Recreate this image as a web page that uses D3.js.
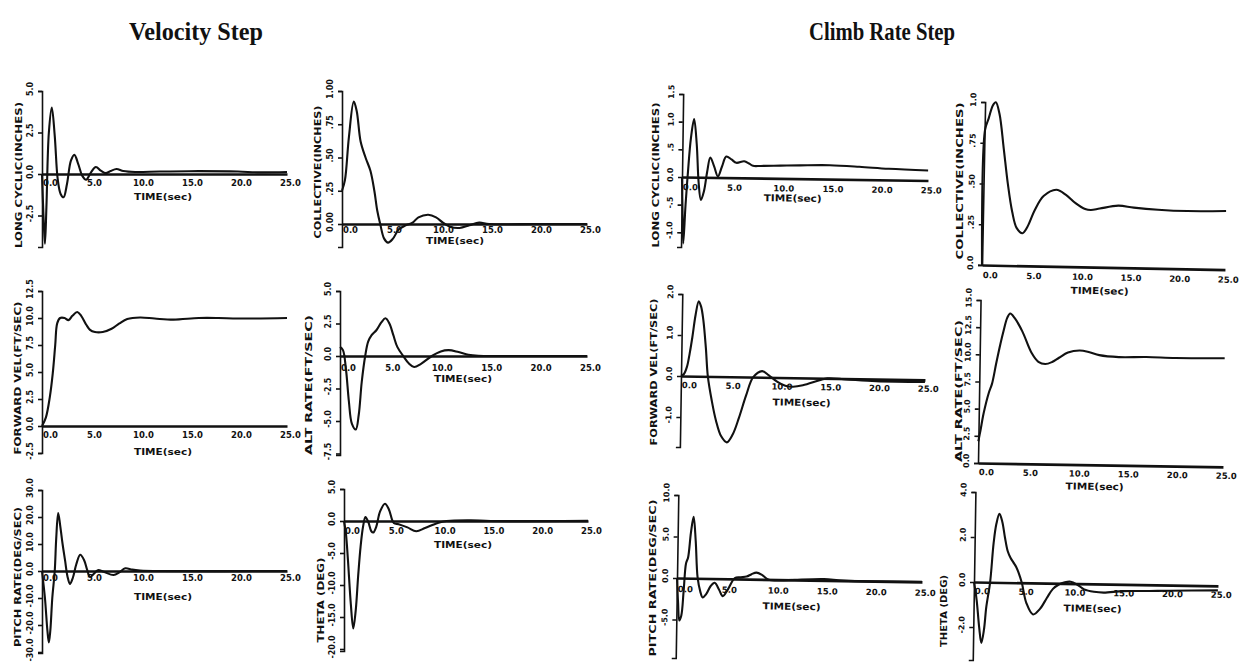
<!DOCTYPE html>
<html>
<head>
<meta charset="utf-8">
<script src="https://cdn.jsdelivr.net/npm/d3@7"></script>
<style>
  body { margin: 0; background: #fff; }
  svg { display: block; }
</style>
</head>
<body>
<svg id="chart" width="1244" height="664"></svg>
<script>
// ---- shared labels ----
const groupTitles = ["Velocity Step", "Climb Rate Step"];
const xTickValues = [0, 5, 10, 15, 20, 25];
const xTickLabels = ["0.0", "5.0", "10.0", "15.0", "20.0", "25.0"];
const timeLabel = "TIME(sec)";

// ---- y-axis tick values and labels ----
const ticksCyclicVel = [5, 2.5, 0, -2.5];
const labelsCyclicVel = ["5.0", "2.5", "0.0", "-2.5"];
const ticksCollVel = [1, 0.75, 0.5, 0.25, 0];
const labelsCollVel = ["1.00", ".75", ".50", ".25", "0.00"];
const ticksCyclicClimb = [1.5, 1, 0.5, 0, -0.5, -1];
const labelsCyclicClimb = ["1.5", "1.0", ".5", "0.0", "-.5", "-1.0"];
const ticksCollClimb = [1, 0.75, 0.5, 0.25, 0];
const labelsCollClimb = ["1.0", ".75", ".50", ".25", "0.0"];
const ticksFwdVel = [12.5, 10, 7.5, 5, 2.5, 0, -2.5];
const labelsFwdVel = ["12.5", "10.0", "7.5", "5.0", "2.5", "0.0", "-2.5"];
const ticksAltVel = [5, 2.5, 0, -2.5, -5, -7.5];
const labelsAltVel = ["5.0", "2.5", "0.0", "-2.5", "-5.0", "-7.5"];
const ticksFwdClimb = [2, 1, 0, -1];
const labelsFwdClimb = ["2.0", "1.0", "0.0", "-1.0"];
const ticksAltClimb = [15, 12.5, 10, 7.5, 5, 2.5, 0];
const labelsAltClimb = ["15.0", "12.5", "10.0", "7.5", "5.0", "2.5", "0.0"];
const ticksPitchVel = [30, 20, 10, 0, -10, -20, -30];
const labelsPitchVel = ["30.0", "20.0", "10.0", "0.0", "-10.0", "-20.0", "-30.0"];
const ticksThetaVel = [5, 0, -5, -10, -15, -20];
const labelsThetaVel = ["5.0", "0.0", "-5.0", "-10.0", "-15.0", "-20.0"];
const ticksPitchClimb = [10, 5, 0, -5];
const labelsPitchClimb = ["10.0", "5.0", "0.0", "-5.0"];
const ticksThetaClimb = [4, 2, 0, -2];
const labelsThetaClimb = ["4.0", "2.0", "0.0", "-2.0"];

// ---- time histories: [time (sec), value] ----
const velLongCyclic = [[0,0],[0.15,-2.5],[0.3,-4.2],[0.45,-2.0],[0.7,2.5],[1.0,4.0],[1.3,2.3],[1.6,-0.3],[1.9,-1.2],[2.2,-1.4],[2.55,-0.6],[2.95,0.8],[3.3,1.15],[3.7,0.6],[4.1,-0.1],[4.5,-0.35],[5.0,0.1],[5.5,0.42],[6.0,0.2],[6.5,0.05],[7.0,0.18],[7.6,0.3],[8.3,0.18],[9.5,0.12],[12,0.15],[15,0.17],[20,0.15],[22,0.1],[25,0.12]];
const velCollective = [[0,0.25],[0.3,0.33],[0.7,0.65],[1.2,0.92],[1.5,0.85],[1.9,0.62],[2.4,0.5],[2.9,0.4],[3.3,0.25],[3.6,0.1],[3.9,0.0],[4.3,-0.11],[4.7,-0.14],[5.2,-0.11],[5.8,-0.04],[6.5,-0.01],[7.2,0.01],[7.8,0.05],[8.8,0.07],[9.6,0.05],[10.3,0.01],[11,-0.02],[12,-0.03],[13,-0.01],[14,0.01],[15,0.0],[20,0.0],[25,0.0]];
const climbLongCyclic = [[0,0],[0.1,-0.6],[0.22,-1.2],[0.4,-0.5],[0.6,0.1],[0.85,0.7],[1.15,1.05],[1.45,0.6],[1.7,-0.1],[1.95,-0.41],[2.25,-0.25],[2.55,0.1],[2.85,0.36],[3.25,0.2],[3.65,0.02],[4.05,0.2],[4.47,0.38],[5.0,0.33],[5.5,0.27],[6.3,0.3],[6.8,0.26],[7.2,0.22],[8,0.22],[10,0.23],[12,0.24],[15,0.25],[18,0.23],[21,0.2],[25,0.18]];
const climbCollective = [[0,0],[0.05,0.83],[0.4,0.9],[0.8,0.98],[1.1,1.0],[1.5,0.93],[2.0,0.72],[2.5,0.5],[3.0,0.33],[3.5,0.23],[4.1,0.2],[4.6,0.24],[5.3,0.34],[6.2,0.43],[7.5,0.47],[8.5,0.44],[9.5,0.39],[10.5,0.355],[11.1,0.35],[12,0.36],[13.9,0.38],[15.5,0.37],[18,0.36],[21,0.355],[25,0.36]];
const velForwardVel = [[0,0],[0.4,0.8],[0.8,2.7],[1.1,4.9],[1.35,7.5],[1.55,9.5],[1.85,10.0],[2.3,10.0],[2.7,9.8],[3.1,10.2],[3.6,10.55],[4.0,10.2],[4.5,9.4],[4.9,8.9],[5.4,8.7],[6.2,8.7],[7.1,9.0],[7.9,9.5],[8.7,9.9],[10,10.05],[11.5,9.95],[13.4,9.85],[16,10.0],[18,10.0],[20,9.95],[25,10.0]];
const velAltRate = [[0,0.7],[0.3,0.45],[0.6,-1.0],[0.9,-3.5],[1.2,-5.2],[1.6,-5.65],[1.9,-4.5],[2.2,-2.0],[2.55,0],[2.85,1.1],[3.2,1.6],[3.7,2.0],[4.2,2.6],[4.6,2.9],[5.0,2.5],[5.4,1.6],[5.8,0.7],[6.4,0],[7.0,-0.6],[7.5,-0.85],[8.2,-0.6],[9.3,0],[10.2,0.35],[11.0,0.45],[12,0.3],[13,0.1],[14,0.02],[16,0],[25,0]];
const climbForwardVel = [[0,0],[0.3,0.05],[0.6,0.23],[0.85,0.55],[1.1,0.95],[1.4,1.5],[1.7,1.83],[1.95,1.7],[2.2,1.37],[2.5,0.7],[2.75,0],[3.2,-0.6],[3.65,-1.07],[4.2,-1.45],[4.8,-1.6],[5.4,-1.4],[6.0,-1.0],[6.7,-0.45],[7.4,0],[8.3,0.15],[9.0,0.05],[9.85,-0.1],[10.7,-0.2],[11.5,-0.22],[12.5,-0.18],[14.2,-0.05],[15,0.0],[17,-0.02],[20,-0.05],[25,-0.05]];
const climbAltRate = [[0,2.0],[0.2,3.0],[0.5,4.6],[1.0,6.5],[1.3,7.3],[1.7,9.2],[2.1,11],[2.4,12.2],[2.75,13.4],[3.05,13.8],[3.5,13.4],[4.3,12.2],[5.3,10.2],[6.0,9.4],[6.7,9.2],[7.4,9.4],[8.1,9.8],[9,10.3],[10.2,10.5],[11.2,10.35],[12.2,10.1],[14.2,9.95],[17,10.0],[20,9.95],[25,10.0]];
const velPitchRate = [[0,0],[0.3,-10],[0.55,-22],[0.7,-26.5],[0.85,-22],[1.05,-10],[1.3,0],[1.45,12],[1.65,21.5],[1.85,17],[2.1,10],[2.35,4],[2.6,-2],[2.85,-4.8],[3.15,-2.5],[3.5,2.5],[3.9,6],[4.3,4],[4.6,0.5],[4.9,-2.2],[5.3,-1],[5.7,0.3],[6.3,-0.3],[7.3,-1.5],[7.9,-0.5],[8.5,1.0],[9.2,0.5],[10,0.2],[12,0],[25,0]];
const velTheta = [[0,0],[0.2,-2],[0.4,-6],[0.7,-13],[0.95,-16.8],[1.2,-14],[1.45,-8.6],[1.7,-4],[1.95,-0.9],[2.2,0.6],[2.5,-0.2],[2.8,-1.6],[3.0,-1.8],[3.3,-0.9],[3.7,1.5],[4.2,2.7],[4.6,1.8],[5.1,-0.3],[5.6,-0.5],[6.5,-1.0],[7.4,-1.6],[8.3,-1.1],[9.6,-0.3],[10.5,0],[13,0.1],[15,0],[25,0.05]];
const climbPitchRate = [[0,0],[0.15,-3],[0.3,-5.1],[0.5,-4.5],[0.7,-1.5],[0.9,1.8],[1.1,2.5],[1.35,5.5],[1.6,7.4],[1.85,4.5],[2.1,0.1],[2.4,-1.6],[2.65,-2.3],[3.0,-1.9],[3.45,-0.9],[3.85,-0.5],[4.3,-1.3],[4.7,-2.1],[5.2,-1.3],[5.9,0.1],[6.5,0.2],[7.1,0.3],[7.6,0.6],[8.1,0.8],[8.7,0.5],[9.3,0],[10.5,-0.1],[12,0],[15,0.15],[17,0],[25,0]];
const climbTheta = [[0,0],[0.3,-0.8],[0.6,-2.0],[0.85,-2.7],[1.1,-2.1],[1.3,-1.1],[1.65,0],[1.95,1.75],[2.2,2.6],[2.5,3.05],[2.8,2.7],[3.1,2.0],[3.4,1.4],[3.7,1.1],[4.0,0.9],[4.3,0.7],[4.55,0.45],[4.9,0],[5.4,-0.9],[6.1,-1.4],[6.8,-1.15],[7.5,-0.65],[8.1,-0.25],[8.7,-0.05],[9.3,0.05],[9.9,0.08],[10.6,-0.05],[11.3,-0.25],[12.3,-0.35],[13.3,-0.38],[15.3,-0.3],[18,-0.28],[20,-0.25],[25,-0.2]];

// ---- panel placement (pixels) ----
const panels = [
  { series: velLongCyclic,   title: "LONG CYCLIC(INCHES)", ticks: ticksCyclicVel,   tickText: labelsCyclicVel,   x0: 42,  x1: 287,  yTop: 91,  yZero: 174, yBot: 247, top: 5,    xlabY: 186, timeX: 163,  timeY: 200, labX: 19,  labY: 175, labLen: 146, tilt: 0 },
  { series: velCollective,   title: "COLLECTIVE(INCHES)",  ticks: ticksCollVel,     tickText: labelsCollVel,     x0: 342, x1: 587,  yTop: 91,  yZero: 224, yBot: 247, top: 1,    xlabY: 233, timeX: 455,  timeY: 244, labX: 318, labY: 172, labLen: 133, tilt: 0 },
  { series: climbLongCyclic, title: "LONG CYCLIC(INCHES)", ticks: ticksCyclicClimb, tickText: labelsCyclicClimb, x0: 682, x1: 928,  yTop: 94,  yZero: 177, yBot: 247, top: 1.5,  xlabY: 190, timeX: 793,  timeY: 200, labX: 656, labY: 175, labLen: 145, tilt: 0.8 },
  { series: climbCollective, title: "COLLECTIVE(INCHES)",  ticks: ticksCollClimb,   tickText: labelsCollClimb,   x0: 982, x1: 1225, yTop: 102, yZero: 265, yBot: 265, top: 1,    xlabY: 278, timeX: 1100, timeY: 292, labX: 960, labY: 181, labLen: 157, tilt: 1.1 },
  { series: velForwardVel,   title: "FORWARD VEL(FT/SEC)", ticks: ticksFwdVel,      tickText: labelsFwdVel,      x0: 42,  x1: 287,  yTop: 291, yZero: 426, yBot: 453, top: 12.5, xlabY: 438, timeX: 163,  timeY: 455, labX: 18,  labY: 378, labLen: 153, tilt: 0 },
  { series: velAltRate,      title: "ALT RATE(FT/SEC)",    ticks: ticksAltVel,      tickText: labelsAltVel,      x0: 340, x1: 587,  yTop: 291, yZero: 356, yBot: 455, top: 5,    xlabY: 371, timeX: 463,  timeY: 382, labX: 309, labY: 385, labLen: 140, tilt: 0 },
  { series: climbForwardVel, title: "FORWARD VEL(FT/SEC)", ticks: ticksFwdClimb,    tickText: labelsFwdClimb,    x0: 681, x1: 925,  yTop: 294, yZero: 376, yBot: 447, top: 2,    xlabY: 388, timeX: 802,  timeY: 404, labX: 654, labY: 372, labLen: 147, tilt: 0.9 },
  { series: climbAltRate,    title: "ALT RATE(FT/SEC)",    ticks: ticksAltClimb,    tickText: labelsAltClimb,    x0: 978, x1: 1223, yTop: 300, yZero: 463, yBot: 463, top: 15,   xlabY: 475, timeX: 1095, timeY: 488, labX: 959, labY: 391, labLen: 142, tilt: 0.9 },
  { series: velPitchRate,    title: "PITCH RATE(DEG/SEC)", ticks: ticksPitchVel,    tickText: labelsPitchVel,    x0: 42,  x1: 287,  yTop: 490, yZero: 571, yBot: 653, top: 30,   xlabY: 581, timeX: 163,  timeY: 600, labX: 18,  labY: 577, labLen: 140, tilt: 0 },
  { series: velTheta,        title: "THETA (DEG)",         ticks: ticksThetaVel,    tickText: labelsThetaVel,    x0: 344, x1: 588,  yTop: 489, yZero: 521, yBot: 651, top: 5,    xlabY: 534, timeX: 463,  timeY: 548, labX: 321, labY: 600, labLen: 85,  tilt: 0 },
  { series: climbPitchRate,  title: "PITCH RATE(DEG/SEC)", ticks: ticksPitchClimb,  tickText: labelsPitchClimb,  x0: 677, x1: 922,  yTop: 495, yZero: 578, yBot: 658, top: 10,   xlabY: 592, timeX: 792,  timeY: 608, labX: 653, labY: 578, labLen: 157, tilt: 0.9 },
  { series: climbTheta,      title: "THETA (DEG)",         ticks: ticksThetaClimb,  tickText: labelsThetaClimb,  x0: 974, x1: 1218, yTop: 492, yZero: 582, yBot: 660, top: 4,    xlabY: 594, timeX: 1093, timeY: 610, labX: 944, labY: 611, labLen: 72,  tilt: 0.9 }
];

const svg = d3.select("#chart");
const ink = "#111";
const labelFont = "'DejaVu Sans', sans-serif";

// group headings
const headingX = [196, 882];
const headingLen = [134, 146];
groupTitles.forEach((t, i) => {
  svg.append("text")
    .attr("x", headingX[i]).attr("y", 40)
    .attr("text-anchor", "middle")
    .attr("font-family", "'Liberation Serif', serif")
    .attr("font-weight", "bold")
    .attr("font-size", 25)
    .attr("textLength", headingLen[i])
    .attr("lengthAdjust", "spacingAndGlyphs")
    .attr("fill", ink)
    .text(t);
});

panels.forEach(p => {
  const g = svg.append("g");
  if (p.tilt) g.attr("transform", `rotate(${p.tilt},${p.x0},${p.yZero})`);

  const x = d3.scaleLinear().domain([0, 25]).range([p.x0, p.x1]);
  const bottomVal = -(p.yBot - p.yZero) / (p.yZero - p.yTop) * p.top;
  const y = d3.scaleLinear().domain([bottomVal, p.top]).range([p.yBot, p.yTop]);

  // vertical axis with bracket ends
  const yAxis = g.append("g")
    .attr("transform", `translate(${p.x0},0)`)
    .call(d3.axisLeft(y).tickValues(p.ticks).tickFormat("").tickSize(4).tickSizeOuter(4));
  yAxis.selectAll("path,line").attr("stroke", ink).attr("stroke-width", 1.6);

  // rotated tick labels
  g.selectAll(null).data(p.ticks).join("text")
    .attr("transform", (d) => `translate(${p.x0 - 9},${y(d) - 2}) rotate(-90)`)
    .attr("text-anchor", "middle")
    .attr("font-family", labelFont)
    .attr("font-weight", "bold")
    .attr("font-size", 8)
    .attr("fill", ink)
    .text((d, i) => p.tickText[i]);

  // horizontal time axis along zero
  const xAxis = g.append("g")
    .attr("transform", `translate(0,${y(0)})`)
    .call(d3.axisBottom(x).tickValues(xTickValues)
      .tickFormat((d, i) => xTickLabels[i])
      .tickSize(0).tickSizeOuter(0).tickPadding(p.xlabY - p.yZero - 6));
  xAxis.select(".domain").attr("stroke", ink).attr("stroke-width", 2.6);
  xAxis.selectAll("text")
    .attr("font-family", labelFont)
    .attr("font-weight", "bold")
    .attr("font-size", 8.5)
    .attr("fill", ink)
    .attr("dx", (d, i) => i === 0 ? 8 : 3);

  // axis captions
  g.append("text")
    .attr("x", p.timeX).attr("y", p.timeY)
    .attr("text-anchor", "middle")
    .attr("font-family", labelFont)
    .attr("font-weight", "bold")
    .attr("font-size", 9.5)
    .attr("textLength", 58)
    .attr("lengthAdjust", "spacingAndGlyphs")
    .attr("fill", ink)
    .text(timeLabel);

  svg.append("text")
    .attr("transform", `translate(${p.labX},${p.labY}) rotate(-90)`)
    .attr("text-anchor", "middle")
    .attr("dominant-baseline", "middle")
    .attr("font-family", labelFont)
    .attr("font-weight", "bold")
    .attr("font-size", 9.5)
    .attr("textLength", p.labLen)
    .attr("lengthAdjust", "spacingAndGlyphs")
    .attr("fill", ink)
    .text(p.title);

  // response trace
  const line = d3.line()
    .x(d => x(d[0]))
    .y(d => y(d[1]))
    .curve(d3.curveCatmullRom.alpha(0.5));
  g.append("path")
    .datum(p.series)
    .attr("d", line)
    .attr("fill", "none")
    .attr("stroke", ink)
    .attr("stroke-width", 2.1)
    .attr("stroke-linejoin", "round");
});
</script>
</body>
</html>
